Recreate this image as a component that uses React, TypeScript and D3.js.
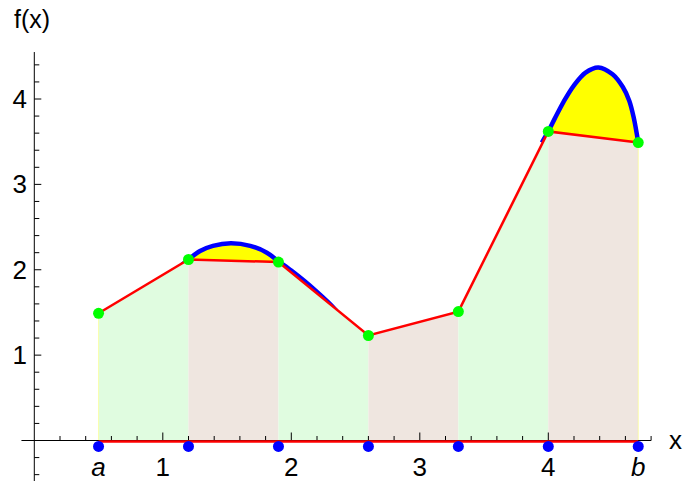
import React from 'react';
import * as d3 from 'd3';

// trapezoid nodes, a = 0.5, b = 4.7, h = 0.7
const nodeX = [0.5, 1.2, 1.9, 2.6, 3.3, 4.0, 4.7];
const nodeY = [1.49, 2.12, 2.09, 1.23, 1.51, 3.62, 3.49];

const hump1X = [1.15, 1.2, 1.29, 1.39, 1.53, 1.68, 1.81, 1.9, 2.0, 2.1, 2.2, 2.3, 2.35];
const hump1Y = [2.06, 2.12, 2.22, 2.28, 2.31, 2.28, 2.2, 2.1, 1.99, 1.87, 1.74, 1.6, 1.52];
const hump2X = [3.95, 4.0, 4.05, 4.12, 4.2, 4.29, 4.39, 4.5, 4.58, 4.63, 4.665, 4.7];
const hump2Y = [3.49, 3.62, 3.77, 3.97, 4.16, 4.31, 4.37, 4.29, 4.14, 3.98, 3.78, 3.49];

const xTickLabels = ['1', '2', '3', '4'];
const yTickLabels = ['1', '2', '3', '4'];

const W = 683;
const H = 481;

const App: React.FC = () => {
  const x = d3.scaleLinear().domain([0, 4.8]).range([34.3, 651.1]);
  const y = d3.scaleLinear().domain([0, 4]).range([440.5, 99]);
  // piecewise linear interpolant through the nodes
  const chord = d3.scaleLinear().domain(nodeX).range(nodeY);

  const line = d3.line<[number, number]>().x(d => x(d[0])).y(d => y(d[1]));
  const smooth = d3.line<[number, number]>().x(d => x(d[0])).y(d => y(d[1])).curve(d3.curveCatmullRom.alpha(0.5));

  const nodes: [number, number][] = nodeX.map((v, i) => [v, nodeY[i]]);
  const humps: [number, number][][] = [
    hump1X.map((v, i) => [v, hump1Y[i]] as [number, number]),
    hump2X.map((v, i) => [v, hump2Y[i]] as [number, number]),
  ];

  // region above the red polyline, used to hide the curve where it dips under
  const top = 0;
  const clipD =
    `M${x(nodeX[0]) - 12},${top}L${x(nodeX[0]) - 12},${y(nodeY[0])}` +
    nodes.map(p => `L${x(p[0])},${y(p[1])}`).join('') +
    `L${x(nodeX[6]) + 12},${y(nodeY[6])}L${x(nodeX[6]) + 12},${top}Z`;

  const yellowD = humps.map(h => {
    const x0 = h[0][0];
    const x1 = h[h.length - 1][0];
    const back: [number, number][] = [
      [x1, chord(x1)],
      ...nodes.filter(p => p[0] > x0 && p[0] < x1).reverse(),
      [x0, chord(x0)],
    ];
    return (smooth(h) || '') + back.map(p => `L${x(p[0])},${y(p[1])}`).join('') + 'Z';
  });

  const xMinor = d3.range(1, 25).map(i => +(i * 0.2).toFixed(1));
  const yMinor = d3.range(-2, 23).filter(i => i !== 0).map(i => +(i * 0.2).toFixed(1));
  const isMajor = (v: number) => Math.abs(v - Math.round(v)) < 1e-6;

  const font = '"Liberation Sans", Arial, sans-serif';

  return (
    <svg width={W} height={H} style={{ position: 'absolute', left: 0, top: 0, background: '#fff' }}>
      <defs>
        <clipPath id="above">
          <path d={clipD} />
        </clipPath>
      </defs>

      {/* trapezoid panels */}
      {nodes.slice(0, -1).map((p, i) => {
        const q = nodes[i + 1];
        const d = `M${x(p[0])},${y(0)}L${x(p[0])},${y(p[1])}L${x(q[0])},${y(q[1])}L${x(q[0])},${y(0)}Z`;
        return <path key={i} d={d} fill={i % 2 === 0 ? '#e0fce0' : '#efe6e0'} />;
      })}
      <line x1={x(nodeX[0])} x2={x(nodeX[0])} y1={y(0)} y2={y(nodeY[0])} stroke="#ffff80" strokeWidth={1} opacity={0.6} />
      <line x1={x(nodeX[6])} x2={x(nodeX[6])} y1={y(0)} y2={y(nodeY[6])} stroke="#ffff80" strokeWidth={1} opacity={0.6} />

      {/* error regions and the function */}
      <g clipPath="url(#above)">
        {yellowD.map((d, i) => (
          <path key={i} d={d} fill="#ffff00" />
        ))}
        {humps.map((h, i) => (
          <path key={i} d={smooth(h) || ''} fill="none" stroke="#0000ff" strokeWidth={4.5} />
        ))}
      </g>

      {/* axes */}
      <line x1={x(-0.1)} x2={x(4.8)} y1={y(0)} y2={y(0)} stroke="#000" strokeWidth={1} />
      <line x1={x(0)} x2={x(0)} y1={y(4.55)} y2={H} stroke="#000" strokeWidth={1} />
      {xMinor.map(v => (
        <line key={v} x1={x(v)} x2={x(v)} y1={y(0)} y2={y(0) - (isMajor(v) ? 8 : 4.5)} stroke="#000" strokeWidth={1} />
      ))}
      {yMinor.map(v => (
        <line key={v} x1={x(0)} x2={x(0) + (isMajor(v) ? 7 : 5)} y1={y(v)} y2={y(v)} stroke="#000" strokeWidth={1} />
      ))}
      {xTickLabels.map(t => (
        <text key={t} x={x(+t)} y={476} textAnchor="middle" fontFamily={font} fontSize={26}>
          {t}
        </text>
      ))}
      {yTickLabels.map(t => (
        <text key={t} x={27} y={y(+t) + 9} textAnchor="end" fontFamily={font} fontSize={26}>
          {t}
        </text>
      ))}
      <text x={x(nodeX[0])} y={476} textAnchor="middle" fontFamily={font} fontSize={26} fontStyle="italic">
        a
      </text>
      <text x={x(nodeX[6])} y={476} textAnchor="middle" fontFamily={font} fontSize={26} fontStyle="italic">
        b
      </text>
      <text x={669} y={449} fontFamily={font} fontSize={26}>
        x
      </text>
      <text x={14} y={28} fontFamily={font} fontSize={25}>
        f(x)
      </text>

      {/* red chords and base */}
      <line x1={x(nodeX[0])} x2={x(nodeX[6])} y1={y(0) + 1} y2={y(0) + 1} stroke="#ff0000" strokeWidth={2.5} />
      <path d={line(nodes) || ''} fill="none" stroke="#ff0000" strokeWidth={2.5} />

      {/* nodes */}
      {nodes.map((p, i) => (
        <circle key={'b' + i} cx={x(p[0])} cy={y(-0.07)} r={5.5} fill="#0000ff" />
      ))}
      {nodes.map((p, i) => (
        <circle key={'g' + i} cx={x(p[0])} cy={y(p[1])} r={5.5} fill="#00ff00" />
      ))}
    </svg>
  );
};

export default App;
